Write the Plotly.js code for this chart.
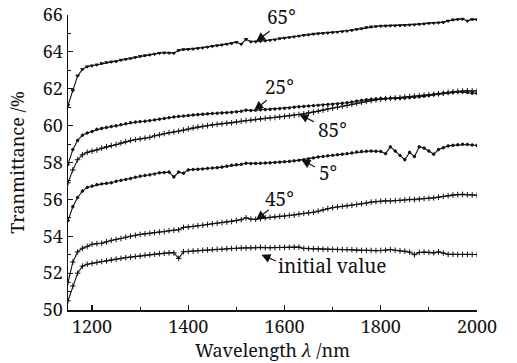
<!DOCTYPE html>
<html>
<head>
<meta charset="utf-8">
<script src="https://cdn.plot.ly/plotly-3.0.1.min.js"></script>
<style>html,body{margin:0;padding:0;background:#fff;}#chart{width:517px;height:363px;}</style>
</head>
<body>
<div id="chart"></div>
<script>
// Wavelength grid (nm), 10 nm steps from 1150 to 2000
var wavelength = [];
for (var w = 1150; w <= 2000; w += 10) wavelength.push(w);

var seriesNames = ["65°", "25°", "85°", "5°", "45°", "initial value"];

var t65 = [61.1,61.9,62.7,63.05,63.2,63.25,63.3,63.37,63.42,63.46,63.48,63.56,63.6,63.64,63.7,63.76,63.8,63.84,63.88,63.93,
63.95,63.94,63.93,64.08,64.13,64.14,64.16,64.19,64.22,64.26,64.3,64.34,64.38,64.42,64.46,64.52,64.42,64.68,64.55,64.55,
64.58,64.6,64.63,64.66,64.72,64.75,64.78,64.82,64.86,64.9,64.93,64.97,64.99,65.01,65.03,65.05,65.07,65.1,65.13,65.17,
65.22,65.26,65.32,65.36,65.38,65.4,65.41,65.42,65.42,65.43,65.44,65.46,65.47,65.5,65.52,65.55,65.56,65.58,65.6,65.68,
65.74,65.76,65.78,65.68,65.76,65.75];

var t25 = [57.9,58.7,59.2,59.48,59.6,59.68,59.8,59.85,59.9,59.95,59.99,60.05,60.1,60.16,60.19,60.22,60.24,60.27,60.31,60.35,
60.39,60.43,60.47,60.5,60.52,60.55,60.58,60.6,60.62,60.64,60.66,60.67,60.69,60.7,60.72,60.75,60.78,60.84,60.82,60.84,
60.86,60.87,60.88,60.9,60.92,60.94,60.96,61.0,61.02,61.04,61.06,61.08,61.1,61.12,61.14,61.16,61.18,61.21,61.24,61.28,
61.33,61.37,61.4,61.43,61.45,61.47,61.47,61.48,61.48,61.49,61.5,61.52,61.54,61.57,61.6,61.64,61.68,61.72,61.76,61.78,
61.8,61.82,61.83,61.8,61.76,61.75];

var t85 = [56.9,57.6,58.15,58.42,58.55,58.62,58.68,58.78,58.86,58.92,58.98,59.06,59.13,59.2,59.24,59.28,59.32,59.36,59.45,59.5,
59.57,59.62,59.66,59.7,59.76,59.82,59.88,59.93,59.96,60.0,60.04,60.07,60.1,60.13,60.15,60.2,60.24,60.28,60.3,60.34,
60.37,60.4,60.42,60.44,60.47,60.5,60.53,60.57,60.6,60.64,60.69,60.73,60.78,60.84,60.9,60.95,61.0,61.05,61.1,61.16,
61.22,61.27,61.32,61.36,61.4,61.43,61.46,61.48,61.5,61.52,61.55,61.58,61.6,61.62,61.65,61.67,61.7,61.73,61.76,61.8,
61.84,61.86,61.88,61.89,61.88,61.88];

var t5 = [54.85,55.6,56.1,56.45,56.65,56.72,56.8,56.84,56.87,56.9,56.98,57.03,57.08,57.13,57.2,57.26,57.3,57.33,57.38,57.44,
57.46,57.48,57.22,57.48,57.42,57.6,57.62,57.63,57.65,57.68,57.7,57.72,57.75,57.8,57.85,57.88,57.9,57.96,57.94,57.95,
57.96,57.97,57.98,58.0,58.02,58.04,58.06,58.09,58.12,58.15,58.2,58.25,58.3,58.33,58.36,58.39,58.42,58.45,58.48,58.52,
58.57,58.6,58.61,58.62,58.61,58.6,58.48,58.85,58.62,58.38,58.15,58.55,58.32,58.85,58.78,58.62,58.45,58.7,58.8,58.9,
58.93,58.96,58.99,58.98,58.95,58.93];

var t45 = [51.5,52.6,53.15,53.35,53.45,53.57,53.6,53.62,53.7,53.78,53.83,53.88,53.95,54.0,54.05,54.1,54.13,54.16,54.2,54.23,
54.25,54.3,54.33,54.35,54.48,54.5,54.53,54.57,54.6,54.64,54.68,54.71,54.74,54.77,54.8,54.85,54.9,55.0,54.93,54.92,
54.96,55.0,55.03,55.05,55.08,55.1,55.13,55.15,55.2,55.24,55.27,55.3,55.36,55.43,55.5,55.55,55.59,55.62,55.65,55.68,
55.72,55.76,55.8,55.85,55.88,55.9,55.92,55.91,55.93,55.95,55.97,56.0,55.98,56.02,56.04,56.06,56.08,56.12,56.16,56.2,
56.24,56.26,56.27,56.25,56.24,56.22];

var tInit = [50.5,51.3,52.0,52.38,52.48,52.53,52.58,52.63,52.67,52.72,52.76,52.8,52.84,52.87,52.9,52.93,52.97,53.0,53.03,53.06,
53.08,53.1,53.1,52.8,53.16,53.18,53.2,53.22,53.24,53.26,53.27,53.29,53.3,53.32,53.34,53.35,53.36,53.37,53.37,53.38,
53.4,53.38,53.37,53.38,53.39,53.39,53.4,53.41,53.41,53.34,53.33,53.32,53.31,53.3,53.29,53.28,53.28,53.28,53.28,53.27,
53.25,53.23,53.23,53.23,53.22,53.23,53.24,53.28,53.24,53.21,53.19,53.14,53.0,53.12,53.14,53.13,53.1,53.15,53.09,53.02,
53.02,53.01,53.01,53.02,53.01,53.01];

var seriesValues = [t65, t25, t85, t5, t45, tInit];
var markerSymbols = ["triangle-down", "circle", "cross-thin", "circle", "cross-thin", "cross-thin"];
var markerSizes = [3, 2.5, 4, 2.5, 4, 4];

// Arrow tip points (wavelength, value) and label texts
var labelText = ["65°", "25°", "85°", "5°", "45°", "initial value"];
var tipX = [1541, 1537, 1631, 1635, 1541, 1552];
var tipY = [64.58, 60.84, 60.6, 58.15, 54.9, 53.0];

var serif = "'Noto Serif', 'Liberation Serif', serif";

var traces = seriesValues.map(function (vals, i) {
  return {
    x: wavelength, y: vals, name: seriesNames[i], type: "scatter", mode: "lines+markers",
    line: {color: "#111", width: 1.1},
    marker: {symbol: markerSymbols[i], size: markerSizes[i], color: "#111", line: {color: "#111", width: 1}},
    showlegend: false, hoverinfo: "x+y+name"
  };
});

var labelOffsets = [[25, -24], [25, -23], [33, 15], [27, 13], [23, -21], [71, 11]];
var arrowTails = [[15, -11], [14, -11], [16, 8], [15, 8], [14, -11], [16, 7]];

var annotations = [];
labelText.forEach(function (t, i) {
  annotations.push({
    x: tipX[i], y: tipY[i], xref: "x", yref: "y", text: t, showarrow: true,
    arrowhead: 0, arrowwidth: 0.01, arrowcolor: "rgba(0,0,0,0)",
    ax: labelOffsets[i][0], ay: labelOffsets[i][1],
    font: {family: serif, size: 19, color: "#111"}
  });
  annotations.push({
    x: tipX[i], y: tipY[i], xref: "x", yref: "y", text: "", showarrow: true,
    arrowhead: 2, arrowsize: 1.5, arrowwidth: 1.2, arrowcolor: "#111",
    ax: arrowTails[i][0], ay: arrowTails[i][1], standoff: 0
  });
});

var layout = {
  width: 517, height: 363,
  margin: {l: 68, r: 40, t: 15, b: 53},
  paper_bgcolor: "#fff", plot_bgcolor: "#fff",
  font: {family: serif, size: 18, color: "#111"},
  xaxis: {
    range: [1150, 2000], tick0: 1200, dtick: 200,
    showgrid: false, zeroline: false, showline: true, linecolor: "#111", linewidth: 1.5,
    ticks: "inside", ticklen: 5, tickwidth: 1.2, tickcolor: "#111",
    minor: {ticks: "inside", dtick: 100, tick0: 1100, ticklen: 3, tickwidth: 1, tickcolor: "#111", showgrid: false},
    tickfont: {family: serif, size: 18, color: "#111"},
    title: {text: "Wavelength <i>λ</i> /nm", font: {family: serif, size: 18, color: "#111"}, standoff: 4}
  },
  yaxis: {
    range: [50, 66], tick0: 50, dtick: 2,
    showgrid: false, zeroline: false, showline: true, linecolor: "#111", linewidth: 1.5,
    ticks: "inside", ticklen: 5, tickwidth: 1.2, tickcolor: "#111",
    minor: {ticks: "inside", dtick: 1, ticklen: 3, tickwidth: 1, tickcolor: "#111", showgrid: false},
    tickfont: {family: serif, size: 18, color: "#111"},
    title: {text: "Tranmittance /%", font: {family: serif, size: 18, color: "#111"}, standoff: 13}
  },
  annotations: annotations
};

Plotly.newPlot("chart", traces, layout, {displayModeBar: false, staticPlot: true});
</script>
</body>
</html>
